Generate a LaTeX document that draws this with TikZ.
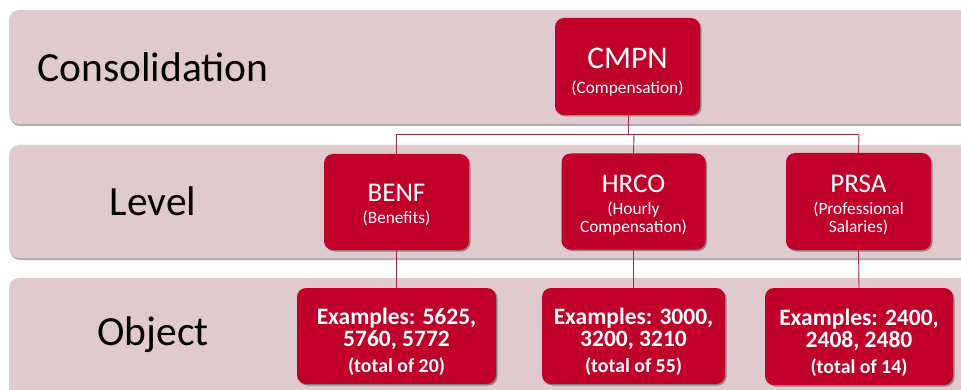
\documentclass[tikz,border=0pt]{standalone}
\usepackage{fontspec}
\setmainfont{Carlito}
\usetikzlibrary{shadows}
\definecolor{bandc}{HTML}{E0CACD}
\definecolor{boxred}{HTML}{C0002A}
\definecolor{connc}{HTML}{9E2A3C}
\newcommand\bigttl{\fontsize{31.5}{34}\selectfont}
\newcommand\ttl{\fontsize{27}{30}\selectfont}
\newcommand\subt{\fontsize{17.3}{18.5}\selectfont}
\newcommand\exa{\bfseries\fontsize{23.5}{22}\selectfont}
\newcommand\tot{\bfseries\fontsize{19.8}{20}\selectfont}
\begin{document}
\begin{tikzpicture}[x=1pt,y=-1pt,
  bandbox/.style={fill=bandc, rounded corners=10pt,
    drop shadow={shadow xshift=1pt,shadow yshift=-2pt,opacity=0.45,fill=black!70}},
  redbox/.style={fill=boxred, rounded corners=9pt, inner sep=0pt, anchor=center,
    drop shadow={shadow xshift=1.5pt,shadow yshift=-1.5pt,opacity=0.45,fill=black!80}},
  boxtext/.style={text=white, align=center, inner sep=0pt},
  lvltext/.style={boxtext, font=\subt},
  objtext/.style={boxtext, font=\exa},
  bandlabel/.style={font=\fontsize{41.5}{48}\selectfont, text=black, anchor=center},
  conn/.style={draw=connc, line width=0.9pt}
]
\useasboundingbox (0,0) rectangle (961,390);
\clip (0,0) rectangle (961,390);
\fill[white] (0,0) rectangle (961,390);
% bands
\path[bandbox] (9,10) rectangle (990,124);
\path[bandbox] (9,145) rectangle (990,258);
\path[bandbox] (9,278) rectangle (990,420);
% band labels
\node[bandlabel] (tcons) at (153,67) {Consolidation};
\node[bandlabel] (tlev) at (153,201) {Level};
\node[bandlabel] (tobj) at (153,335) {Object};
% junction points
\coordinate (j0) at (628,134);
\coordinate (jb) at (396.5,134);
\coordinate (jh) at (634,134);
\coordinate (jp) at (859,134);
% boxes
\node[redbox, minimum width=145pt, minimum height=97pt,
  label={[lvltext, yshift=-5.5pt]center:{{\bigttl CMPN}\\[6pt]{\subt (Compensation)}}}]
  (cmpn) at (627.5,66.5) {};
\node[redbox, minimum width=145pt, minimum height=96pt,
  label={[lvltext, yshift=-3.5pt]center:{{\ttl BENF}\\[3.5pt]{\subt (Benefits)}}}]
  (benf) at (396.5,202) {};
\node[redbox, minimum width=144pt, minimum height=96pt,
  label={[lvltext, yshift=-3.5pt]center:{{\ttl HRCO}\\[3.5pt]{\subt (Hourly}\\{\subt Compensation)}}}]
  (hrco) at (633.5,201.5) {};
\node[redbox, minimum width=145pt, minimum height=97pt,
  label={[lvltext, yshift=-3.5pt]center:{{\ttl PRSA}\\[3.5pt]{\subt (Professional}\\{\subt Salaries)}}}]
  (prsa) at (858.5,201.5) {};
\node[redbox, minimum width=199pt, minimum height=96pt,
  label={[objtext, yshift=-6pt]center:{{\exa Examples: 5625,}\\{\exa 5760, 5772}\\[4pt]{\tot (total of 20)}}}]
  (obenf) at (396.5,336) {};
\node[redbox, minimum width=183pt, minimum height=96pt,
  label={[objtext, yshift=-6pt]center:{{\exa Examples: 3000,}\\{\exa 3200, 3210}\\[4pt]{\tot (total of 55)}}}]
  (ohrco) at (633.5,336) {};
\node[redbox, minimum width=188pt, minimum height=97pt,
  label={[objtext, yshift=-6pt]center:{{\exa Examples: 2400,}\\{\exa 2408, 2480}\\[4pt]{\tot (total of 14)}}}]
  (oprsa) at (859,336.5) {};
% connectors
\draw[conn] (cmpn.south -| j0) -- (j0);
\draw[conn] (jb) -- (jp);
\draw[conn] (jb) -- (benf.north);
\draw[conn] (jh) -- (hrco.north);
\draw[conn] (jp) -- (prsa.north);
\draw[conn] (benf.south) -- (obenf.north);
\draw[conn] (hrco.south) -- (ohrco.north);
\draw[conn] (prsa.south) -- (oprsa.north);
\end{tikzpicture}
\end{document}
